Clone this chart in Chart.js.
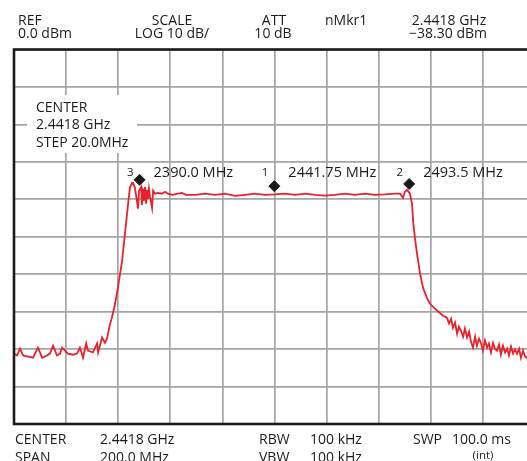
<!DOCTYPE html>
<html>
<head>
<meta charset="utf-8">
<script src="https://cdn.jsdelivr.net/npm/chart.js@4"></script>
<style>
  html, body { margin: 0; padding: 0; background: #fff; overflow: hidden; }
  #wrap { width: 527px; height: 461px; overflow: hidden; position: relative; }
  canvas { display: block; }
</style>
</head>
<body>
<div id="wrap"><canvas id="sa" width="545" height="461"></canvas></div>
<script>
// sweep settings
const centerFreq = 2441.8;
const spanMHz = 200;
const gridFreqs = [2341.8, 2361.8, 2381.8, 2401.8, 2421.8, 2441.8, 2461.8, 2481.8, 2501.8, 2521.8, 2541.8];
const levelTicks = [0, -10, -20, -30, -40, -50, -60, -70, -80, -90, -100];

// trace (MHz / dBm)
const traceFreq = [
  2341.8, 2343.0, 2344.1, 2345.3, 2347.2, 2349.1, 2351.0, 2352.6, 2354.5, 2355.6,
  2356.8, 2358.3, 2359.5, 2360.2, 2361.4, 2362.5, 2364.5, 2366.0, 2367.1, 2368.3,
  2369.5, 2370.2, 2372.1, 2373.7, 2374.1, 2375.6, 2376.7, 2377.5, 2378.7, 2379.4,
  2380.6, 2381.7, 2383.3, 2384.4, 2385.6, 2386.3, 2387.1, 2387.5, 2388.2, 2389.0,
  2389.4, 2389.8, 2390.6, 2390.9, 2391.3, 2391.7, 2392.1, 2392.5, 2392.9, 2393.2,
  2393.6, 2394.0, 2394.8, 2395.2, 2395.9, 2397.1, 2398.6, 2399.8, 2400.9, 2402.5,
  2404.8, 2406.3, 2407.8, 2411.3, 2415.1, 2419.0, 2422.8, 2426.6, 2430.5, 2434.3,
  2438.2, 2442.0, 2445.8, 2449.7, 2453.5, 2457.4, 2461.2, 2465.0, 2468.9, 2472.7,
  2476.5, 2480.4, 2484.2, 2488.1, 2490.0, 2491.1, 2491.9, 2492.7, 2493.8, 2494.6,
  2495.0, 2495.7, 2496.5, 2497.7, 2498.8, 2500.3, 2501.5, 2504.2, 2506.5, 2508.0,
  2508.8, 2509.6, 2510.3, 2511.1, 2511.9, 2512.6, 2513.4, 2514.2, 2514.9, 2515.7,
  2516.5, 2517.2, 2518.0, 2518.8, 2519.5, 2520.3, 2521.1, 2521.8, 2522.6, 2523.4,
  2524.1, 2524.9, 2525.7, 2526.4, 2527.2, 2528.0, 2528.7, 2529.5, 2530.3, 2531.1,
  2531.8, 2532.6, 2533.4, 2534.1, 2534.9, 2535.7, 2536.4, 2537.2, 2538.0, 2538.7,
  2540.3, 2541.8
];
const traceLevel = [
  -81.2, -81.7, -79.9, -81.7, -82.0, -82.3, -79.6, -82.3, -81.7, -81.2,
  -79.1, -81.7, -81.2, -79.6, -80.4, -81.2, -81.5, -81.2, -79.6, -82.3,
  -78.5, -80.4, -80.9, -78.5, -80.9, -76.9, -78.3, -77.2, -73.2, -71.6,
  -67.9, -63.6, -56.4, -49.2, -41.2, -36.9, -35.6, -35.6, -36.9, -40.4,
  -42.5, -37.7, -36.7, -41.5, -37.2, -40.4, -36.7, -41.2, -37.5, -39.9,
  -37.2, -39.3, -42.3, -37.7, -38.5, -38.3, -38.5, -38.0, -38.5, -38.8,
  -38.5, -38.3, -38.8, -38.8, -38.5, -38.8, -38.5, -39.1, -38.8, -38.5,
  -38.8, -38.7, -38.5, -38.8, -38.5, -38.8, -39.0, -38.8, -38.5, -38.8,
  -38.5, -38.8, -38.7, -38.5, -38.5, -39.6, -38.0, -37.5, -38.5, -41.2,
  -45.7, -50.3, -54.5, -59.9, -63.6, -66.3, -67.9, -69.7, -71.1, -71.6,
  -73.2, -71.9, -74.3, -72.9, -75.9, -74.0, -75.1, -76.7, -74.5, -76.9,
  -75.3, -78.0, -79.6, -76.7, -79.1, -77.2, -78.5, -80.4, -77.7, -79.6,
  -78.5, -80.9, -78.3, -79.9, -80.4, -78.8, -81.5, -79.1, -80.9, -79.9,
  -81.7, -79.3, -81.2, -80.1, -81.2, -79.9, -82.3, -80.4, -82.0, -82.3,
  -80.9, -81.7
];

// markers
const markerIds = ['3', '1', '2'];
const markerFreq = [2390.0, 2441.75, 2493.5];
const markerLevel = [-34.8, -36.5, -35.9];
const markerText = ['2390.0 MHz', '2441.75 MHz', '2493.5 MHz'];

const FONT = '"Open Sans", "Noto Sans", sans-serif';
const INK = '#1e1b1c';

function txt(ctx, s, x, y, align, size) {
  ctx.font = (size || 14) + 'px ' + FONT;
  ctx.textAlign = align || 'left';
  ctx.textBaseline = 'alphabetic';
  ctx.fillStyle = INK;
  ctx.fillText(s, x, y);
}

const screenPlugin = {
  id: 'screen',
  beforeDatasetsDraw(chart) {
    const ctx = chart.ctx;
    ctx.save();
    // box behind the center readout
    ctx.fillStyle = '#fff';
    ctx.fillRect(27, 95, 110, 58);
    txt(ctx, 'CENTER', 36, 112);
    txt(ctx, '2.4418 GHz', 36, 129);
    txt(ctx, 'STEP 20.0MHz', 36, 147);
    ctx.restore();
  },
  afterDatasetsDraw(chart) {
    const ctx = chart.ctx;
    const a = chart.chartArea;
    const xs = chart.scales.x;
    ctx.save();
    // frame
    ctx.strokeStyle = INK;
    ctx.lineWidth = 2.6;
    ctx.strokeRect(a.left, a.top, a.right - a.left, a.bottom - a.top);
    // marker labels
    markerFreq.forEach((f, i) => {
      const px = xs.getPixelForValue(f);
      txt(ctx, markerIds[i], px - 6, 176, 'right', 11.5);
      txt(ctx, markerText[i], px + 14, 177, 'left', 14.5);
    });
    // header
    txt(ctx, 'REF', 18, 25);
    txt(ctx, '0.0 dBm', 18, 37.5);
    txt(ctx, 'SCALE', 172, 25, 'center');
    txt(ctx, 'LOG 10 dB/', 172, 37.5, 'center');
    txt(ctx, 'ATT', 274, 25, 'center');
    txt(ctx, '10 dB', 273, 37.5, 'center');
    txt(ctx, 'nMkr1', 325, 25);
    txt(ctx, '2.4418 GHz', 449, 25, 'center');
    txt(ctx, '\u221238.30 dBm', 448, 37.5, 'center');
    // footer
    txt(ctx, 'CENTER', 15, 444);
    txt(ctx, '2.4418 GHz', 100, 444);
    txt(ctx, 'RBW', 259, 444);
    txt(ctx, '100 kHz', 310, 444);
    txt(ctx, 'SWP', 413, 444);
    txt(ctx, '100.0 ms', 452, 444);
    txt(ctx, 'SPAN', 15, 462);
    txt(ctx, '200.0 MHz', 100, 462);
    txt(ctx, 'VBW', 259, 462);
    txt(ctx, '100 kHz', 310, 462);
    txt(ctx, '(int)', 483, 459, 'center', 11.5);
    ctx.restore();
  }
};

new Chart(document.getElementById('sa'), {
  type: 'line',
  data: {
    datasets: [
      {
        label: 'Trace',
        data: traceFreq.map((f, i) => ({ x: f, y: traceLevel[i] })),
        borderColor: '#e8212b',
        borderWidth: 1.8,
        pointRadius: 0,
        tension: 0,
        fill: false
      },
      {
        label: 'Markers',
        type: 'scatter',
        data: markerFreq.map((f, i) => ({ x: f, y: markerLevel[i] })),
        pointStyle: 'rectRot',
        pointRadius: 5.5,
        backgroundColor: '#1a1a1a',
        borderColor: '#1a1a1a',
        borderWidth: 1
      }
    ]
  },
  options: {
    responsive: false,
    animation: false,
    devicePixelRatio: 1,
    layout: { padding: { left: 14, top: 49.5, right: 10, bottom: 37 } },
    plugins: { legend: { display: false }, tooltip: { enabled: false } },
    scales: {
      x: {
        type: 'linear',
        min: centerFreq - spanMHz / 2,
        max: centerFreq + spanMHz / 2,
        afterBuildTicks: s => { s.ticks = gridFreqs.map(v => ({ value: v })); },
        ticks: { display: false },
        grid: { color: '#a5a5a5', lineWidth: 1.7, drawTicks: false },
        border: { display: false }
      },
      y: {
        min: -100,
        max: 0,
        afterBuildTicks: s => { s.ticks = levelTicks.map(v => ({ value: v })); },
        ticks: { display: false },
        grid: { color: '#a5a5a5', lineWidth: 1.7, drawTicks: false },
        border: { display: false }
      }
    }
  },
  plugins: [screenPlugin]
});
</script>
</body>
</html>
